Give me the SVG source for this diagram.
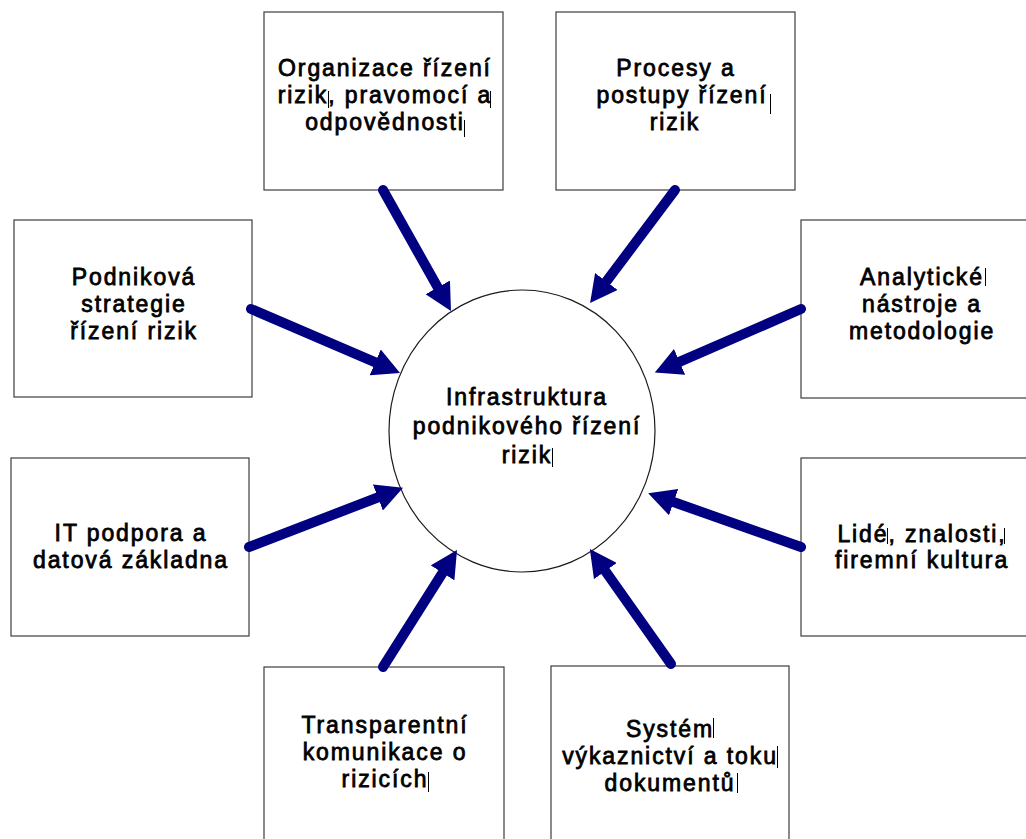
<svg xmlns="http://www.w3.org/2000/svg" width="1026" height="839" viewBox="0 0 1026 839">
  <style>
    .box { fill: #ffffff; stroke: #3c3c3c; stroke-width: 1.2; }
    .hub { fill: #ffffff; stroke: #1a1a1a; stroke-width: 1.2; }
    .lbl { font-family: "Liberation Sans", Arial, sans-serif; font-size: 23px; fill: #000000; stroke: #000000; stroke-width: 0.8; text-anchor: middle; letter-spacing: 1.9px; }
    .arrow { fill: none; stroke: #000080; stroke-width: 10; stroke-linecap: round; marker-end: url(#head); }
    .caret { stroke: #000000; stroke-width: 1; }
  </style>
  <defs>
    <marker id="head" markerUnits="userSpaceOnUse" viewBox="0 0 28 28" markerWidth="28" markerHeight="28" refX="4" refY="14" orient="auto">
      <path d="M0,0 L27,14 L0,28 Z" fill="#000080"/>
    </marker>
  </defs>
  <rect width="1026" height="839" fill="#ffffff"/>

  <!-- central hub -->
  <g id="hub">
    <ellipse class="hub" cx="522" cy="431" rx="133" ry="141"/>
    <text class="lbl" x="527" y="405">Infrastruktura</text>
    <text class="lbl" x="527" y="434">podnikového řízení</text>
    <text class="lbl" x="527" y="463">rizik</text>
    <line class="caret" x1="552.5" y1="448" x2="552.5" y2="467"/>
  </g>

  <g id="organizace">
    <rect class="box" x="264" y="12" width="239" height="178"/>
    <text class="lbl" x="385" y="76">Organizace řízení</text>
    <text class="lbl" x="385" y="103">rizik, pravomocí a</text>
    <text class="lbl" x="385" y="130">odpovědnosti</text>
    <line class="caret" x1="328.5" y1="91" x2="328.5" y2="108"/>
    <line class="caret" x1="490.5" y1="91" x2="490.5" y2="108"/>
    <line class="caret" x1="464.5" y1="120" x2="464.5" y2="137"/>
  </g>

  <g id="procesy">
    <rect class="box" x="556" y="12" width="239" height="178"/>
    <text class="lbl" x="676" y="76">Procesy a</text>
    <text class="lbl" x="682" y="103">postupy řízení</text>
    <text class="lbl" x="675" y="130">rizik</text>
    <line class="caret" x1="770.5" y1="94" x2="770.5" y2="114"/>
  </g>

  <g id="strategie">
    <rect class="box" x="14" y="220" width="238" height="177"/>
    <text class="lbl" x="134" y="285">Podniková</text>
    <text class="lbl" x="134" y="312">strategie</text>
    <text class="lbl" x="134" y="339">řízení rizik</text>
  </g>

  <g id="analyticke">
    <rect class="box" x="801" y="220" width="240" height="178"/>
    <text class="lbl" x="922" y="285">Analytické</text>
    <text class="lbl" x="922" y="312">nástroje a</text>
    <text class="lbl" x="922" y="339">metodologie</text>
    <line class="caret" x1="985.5" y1="268" x2="985.5" y2="286"/>
  </g>

  <g id="it-podpora">
    <rect class="box" x="11" y="458" width="238" height="178"/>
    <text class="lbl" x="131" y="541">IT podpora a</text>
    <text class="lbl" x="131" y="568">datová základna</text>
  </g>

  <g id="lide">
    <rect class="box" x="801" y="458" width="240" height="178"/>
    <text class="lbl" x="922" y="542">Lidé, znalosti,</text>
    <text class="lbl" x="922" y="568">firemní kultura</text>
    <line class="caret" x1="887.5" y1="528" x2="887.5" y2="544"/>
    <line class="caret" x1="1004.5" y1="528" x2="1004.5" y2="544"/>
  </g>

  <g id="komunikace">
    <rect class="box" x="264" y="667" width="240" height="180"/>
    <text class="lbl" x="385" y="733">Transparentní</text>
    <text class="lbl" x="385" y="760">komunikace o</text>
    <text class="lbl" x="385" y="787">rizicích</text>
    <line class="caret" x1="428.5" y1="772" x2="428.5" y2="792"/>
  </g>

  <g id="vykaznictvi">
    <rect class="box" x="551" y="666" width="238" height="180"/>
    <text class="lbl" x="670" y="737">Systém</text>
    <text class="lbl" x="670" y="764">výkaznictví a toku</text>
    <text class="lbl" x="670" y="791">dokumentů</text>
    <line class="caret" x1="713.5" y1="718" x2="713.5" y2="738"/>
    <line class="caret" x1="777.5" y1="746" x2="777.5" y2="768"/>
    <line class="caret" x1="737.5" y1="773" x2="737.5" y2="793"/>
  </g>

  <!-- connectors: each runs from a box edge to the hub -->
  <g id="connectors">
    <line class="arrow" x1="383" y1="190" x2="439.7" y2="290.9"/>
    <line class="arrow" x1="675" y1="190" x2="603.9" y2="284.7"/>
    <line class="arrow" x1="251" y1="309" x2="378.9" y2="363.9"/>
    <line class="arrow" x1="801" y1="309" x2="675.9" y2="363.4"/>
    <line class="arrow" x1="249" y1="547" x2="381.6" y2="496.0"/>
    <line class="arrow" x1="801" y1="547" x2="669.9" y2="500.8"/>
    <line class="arrow" x1="383" y1="667" x2="444.7" y2="569.5"/>
    <line class="arrow" x1="671" y1="664" x2="603.1" y2="567.8"/>
  </g>
</svg>
